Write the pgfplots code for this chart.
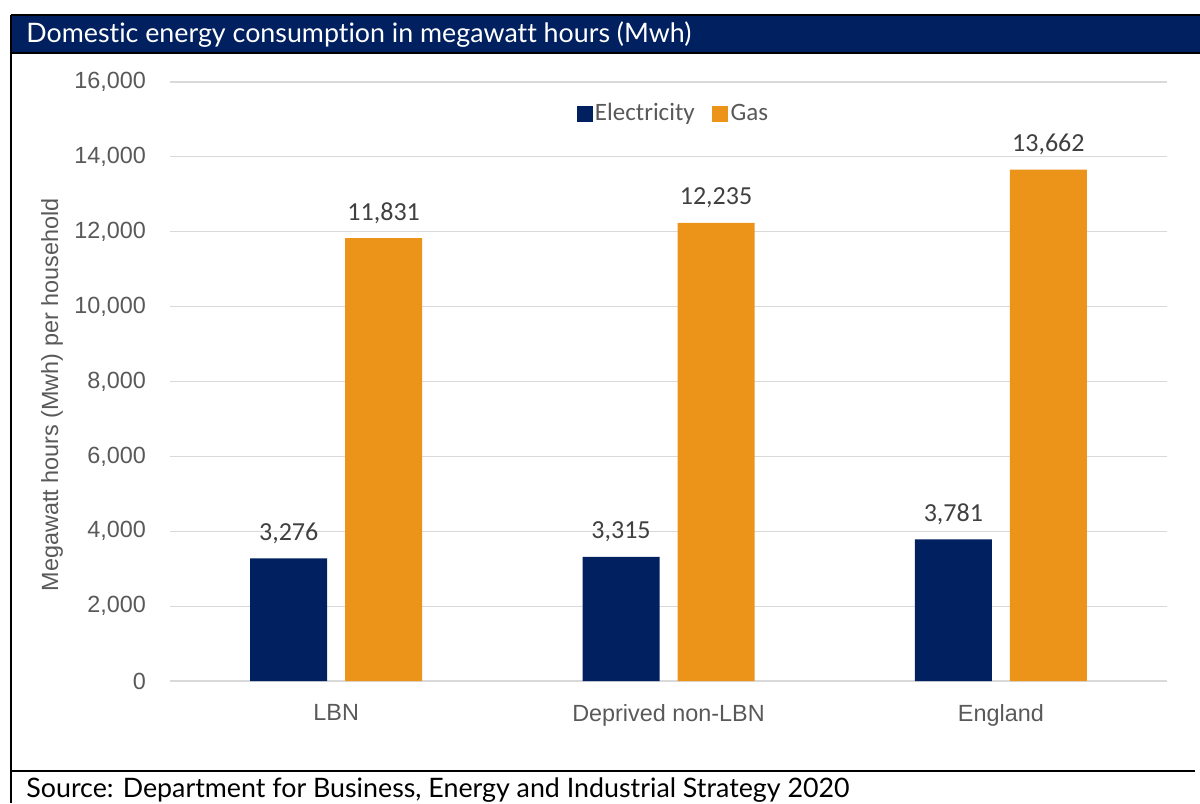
\documentclass[border=0pt]{standalone}
\usepackage{pgfplots}
\pgfplotsset{compat=1.18}
\usepackage{fontspec}
\setmainfont{Liberation Sans}
\newfontfamily\hdfont[Ligatures=NoCommon]{Lato}
\newfontfamily\lblfont{Carlito}
\definecolor{navy}{HTML}{002060}
\definecolor{orng}{HTML}{EC941A}
\definecolor{tickgrey}{HTML}{595959}
\definecolor{lblgrey}{HTML}{404040}
\definecolor{gridgrey}{HTML}{D9D9D9}
\begin{document}
\begin{tikzpicture}
\begin{scope}[x=0.5bp,y=0.5bp]
\path[use as bounding box] (0,0) rectangle (1200,803);
\fill[navy] (11,788) rectangle (1200,750);
\draw[black,line width=1bp] (11,788) -- (1200,788);
\draw[black,line width=1bp] (11,750) -- (1200,750);
\draw[black,line width=1bp] (11,788) -- (11,0);
\draw[black,line width=1bp] (11,32) -- (1195,32);
\node[anchor=west,text=white,inner sep=0pt,font=\hdfont\fontsize{13.4bp}{15bp}\selectfont] at (26,768) {Domestic energy consumption in megawatt hours (Mwh)};
\node[anchor=west,text=black,inner sep=0pt,font=\hdfont\fontsize{13.4bp}{15bp}\selectfont] at (26,13) {Source: Department for Business, Energy and Industrial Strategy 2020};
\node[rotate=90, text=tickgrey, font=\fontsize{11.7bp}{14bp}\selectfont] at (52,408) {Megawatt hours (Mwh) per household};
\end{scope}
\begin{axis}[
  at={(85bp,61bp)}, anchor=south west, scale only axis,
  width=498.5bp, height=299.5bp,
  xmin=-0.5, xmax=2.5, ymin=0, ymax=16000,
  ybar=9bp, bar width=38.5bp,
  xtick={0,1,2}, xticklabels={LBN,Deprived non-LBN,England},
  ytick={0,2000,...,16000},
  axis line style={draw=none},
  major tick length=0pt,
  ymajorgrids, grid style={gridgrey,line width=0.6bp},
  /pgf/number format/.cd, 1000 sep={,}, assume math mode=true, /pgfplots/.cd,
  scaled y ticks=false,
  yticklabel style={font=\fontsize{11.7bp}{14bp}\selectfont, text=tickgrey, xshift=-8.5bp},
  xticklabel style={font=\fontsize{11.7bp}{14bp}\selectfont, text=tickgrey, yshift=-8bp},
  nodes near coords,
  nodes near coords style={font=\lblfont\fontsize{13bp}{15bp}\selectfont, text=lblgrey, anchor=base, inner sep=0pt, yshift=9bp},
  legend style={at={(0.505,0.947)}, anchor=center, draw=none, fill=none,
    legend columns=2, font=\lblfont\fontsize{12.5bp}{15bp}\selectfont, text=tickgrey,
    /tikz/every even column/.append style={column sep=7.5bp},
    nodes={inner sep=1.2bp}},
  legend image code/.code={\fill[#1] (0bp,-4bp) rectangle (8bp,4bp);},
]
\addplot[fill=navy, draw=none] coordinates {(0,3276) (1,3315) (2,3781)};
\addplot[fill=orng, draw=none] coordinates {(0,11831) (1,12235) (2,13662)};
\legend{Electricity,Gas}
\end{axis}
\end{tikzpicture}
\end{document}
